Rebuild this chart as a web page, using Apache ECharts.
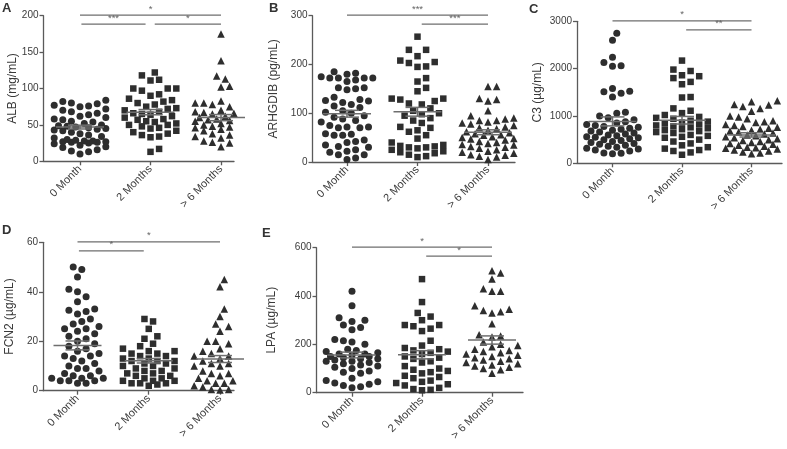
<!DOCTYPE html>
<html><head><meta charset="utf-8">
<script src="https://cdn.jsdelivr.net/npm/echarts@6/dist/echarts.min.js"></script>
<style>html,body{margin:0;padding:0;background:#fff}#c{width:787px;height:449px}</style>
</head><body><div id="c"></div>
<script>
// ---------------- DATA ----------------
const categories = ['0 Month', '2 Months', '> 6 Months'];

const ALB_0m = [84,82,80,79,77,76,75,72,70,68,66,64,62,60,58,57,55,54,52,50,49,48,47,46,45,44,43,42,40,38,36,34,32,30,29,28,28,27,27,26,26,25,24,22,20,19,16,14,13,10];
const ALB_2m = [122,118,112,111,100,100,100,97,92,90,86,84,82,80,78,75,73,72,70,68,66,65,64,62,60,58,57,55,54,52,50,50,48,46,45,42,40,38,36,34,33,17,13];
const ALB_6m = [175,138,117,113,103,102,83,80,80,78,75,72,70,68,67,66,65,64,62,60,60,58,57,56,55,54,52,50,50,48,47,46,45,44,42,40,38,36,34,32,30,28,27,26,25,20];
const ALB_mean = [47, 67.5, 60];
const ALB_sem = [2.6, 3.6, 4.2];
const ALB_sig = [[0, 2, '*'], [0, 1, '***'], [1, 2, '*']];

const ARHGDIB_0m = [185,182,180,175,172,172,172,172,168,165,152,152,150,148,133,128,126,125,122,118,115,112,105,102,100,95,92,88,85,82,75,72,72,70,70,58,57,55,55,45,42,40,35,32,30,25,22,20,15,15,8,5];
const ARHGDIB_2m = [257,230,230,217,208,205,203,196,195,172,165,152,145,130,130,128,125,120,118,110,105,100,98,95,90,85,80,72,70,65,62,55,48,40,35,33,32,30,30,28,25,22,20,18,15,12,10];
const ARHGDIB_6m = [155,155,130,128,125,105,95,90,88,85,85,82,80,78,75,72,70,68,65,62,60,58,56,55,52,50,48,47,45,42,40,38,36,35,32,30,28,25,22,20,18,15,14,12,10,5];
const ARHGDIB_mean = [99, 103, 61];
const ARHGDIB_sem = [7, 9, 5];
const ARHGDIB_sig = [[0, 2, '***'], [1, 2, '***']];

const C3_0m = [2750,2600,2240,2130,2060,2050,1580,1520,1510,1480,1400,1080,1060,1000,960,920,880,850,820,800,780,760,740,720,700,680,660,640,620,600,580,560,550,540,520,500,480,460,440,420,400,380,360,340,320,300,280,260,220,210,200];
const C3_2m = [2170,1980,1950,1860,1840,1800,1720,1670,1400,1390,1160,1110,1060,1020,980,960,940,900,880,860,840,820,800,780,760,740,720,700,680,660,640,600,580,560,540,500,460,420,380,340,310,280,260,230,180];
const C3_6m = [1320,1300,1240,1230,1200,1160,1100,1000,980,940,900,880,860,820,800,780,760,740,720,700,680,660,640,620,600,580,560,540,520,500,480,460,440,420,400,380,360,340,330,320,300,280,260,240,220,200];
const C3_mean = [885, 910, 600];
const C3_sem = [95, 80, 45];
const C3_sig = [[0, 2, '*'], [1, 2, '**']];

const FCN2_0m = [50,49,46,41,40,38,36,33,32.5,32,31,29,28,27,26,25,25,24,23,22,21,20,19,18,17,16,15,14,14,13,12,11,10,9,9,8,7,6,6,5,5,5,4,4,4,3,3];
const FCN2_2m = [29,28,25,22,21,19,18,17,16,16,15,15,14,14,13,13,12,12,12,11,11,10,10,9,9,8,8,7,7,6,6,5,5,4,4,4,3,3,3,2.5,2];
const FCN2_6m = [45,42,33,30,27,26,24,20,20,19,17,16,15,15,14,14,13,13,12,12,11,11,10,10,9,8,8,7,7,6,5,5,4,4,3,3,2,2,1.5,1,0.5,0.5,0.3];
const FCN2_mean = [18.3, 12.1, 12.8];
const FCN2_sem = [1.8, 0.9, 1.4];
const FCN2_sig = [[0, 2, '*'], [0, 1, '*']];

const LPA_0m = [420,360,310,300,295,280,270,260,220,215,210,200,180,175,170,165,160,160,155,150,150,145,140,140,135,130,130,125,120,115,110,105,100,90,85,80,60,50,45,40,35,30,25,20];
const LPA_2m = [470,375,330,315,300,280,280,275,265,255,215,195,185,180,175,170,165,160,150,145,140,130,125,110,100,95,90,85,80,70,65,60,50,45,40,35,30,20,15,12,10];
const LPA_6m = [505,495,470,430,420,420,360,345,340,335,330,285,240,235,230,210,200,195,190,180,175,170,165,160,155,150,145,140,135,130,125,120,115,110,105,100,95,80];
const LPA_mean = [156, 157, 218];
const LPA_sem = [12, 17, 17];
const LPA_sig = [[0, 2, '*'], [1, 2, '*']];

// ---------------- LAYOUT ----------------
// grid: pixel box; cat0/cat2: pixel x of first/last category; x range derived from them
const panels = [
  {letter:'A', name:'ALB (mg/mL)', groups:[ALB_0m, ALB_2m, ALB_6m], mean:ALB_mean, sem:ALB_sem, sig:ALB_sig,
   yMax:200, yInt:50, left:43.5, right:234, top:15.7, bottom:161.3, cat0:80, cat2:221, nameGap:25, letterPos:[2,2]},
  {letter:'B', name:'ARHGDIB (pg/mL)', groups:[ARHGDIB_0m, ARHGDIB_2m, ARHGDIB_6m], mean:ARHGDIB_mean, sem:ARHGDIB_sem, sig:ARHGDIB_sig,
   yMax:300, yInt:100, left:312.5, right:515, top:15.7, bottom:162, cat0:347, cat2:488, nameGap:33, letterPos:[269,2]},
  {letter:'C', name:'C3 (\u00b5g/mL)', groups:[C3_0m, C3_2m, C3_6m], mean:C3_mean, sem:C3_sem, sig:C3_sig,
   yMax:3000, yInt:1000, left:577, right:782, top:21.3, bottom:163.3, cat0:612.5, cat2:751.5, nameGap:33, letterPos:[529,3]},
  {letter:'D', name:'FCN2 (\u00b5g/mL)', groups:[FCN2_0m, FCN2_2m, FCN2_6m], mean:FCN2_mean, sem:FCN2_sem, sig:FCN2_sig,
   yMax:60, yInt:20, left:43, right:234, top:242.3, bottom:390.7, cat0:77.5, cat2:220, nameGap:27, letterPos:[2,224]},
  {letter:'E', name:'LPA (\u00b5g/mL)', groups:[LPA_0m, LPA_2m, LPA_6m], mean:LPA_mean, sem:LPA_sem, sig:LPA_sig,
   yMax:600, yInt:200, left:316.5, right:523, top:247.7, bottom:392.7, cat0:352, cat2:492, nameGap:39, letterPos:[262,227]}
];
const symbols = ['circle', 'rect', 'triangle'];
const symbolSizes = [7, 6.5, 7.5];
const FONT = 'Liberation Sans, Arial, sans-serif';
const INK = '#2e2e2e', AXIS = '#5a5a5a', TXT = '#3a3a3a', MEANC = '#6e6e6e';

// beeswarm-like horizontal spreading (pixel based) of a group's values
function swarm(values, pxPerY, pxPerX, center) {
  const sorted = values.slice().sort((a, b) => a - b);
  const placed = [], out = [];
  const step = 4.3, dist = 8.2, maxOff = 26;
  for (const v of sorted) {
    const y = v * pxPerY;
    let best = 0, bestScore = -1, found = false;
    for (let k = 0; k * step <= maxOff && !found; k++) {
      const cands = k === 0 ? [0] : [k * step, -k * step];
      for (const x of cands) {
        let minD = Infinity;
        for (const p of placed) {
          if (Math.abs(p.y - y) < dist) { const d = Math.hypot(p.x - x, p.y - y); if (d < minD) minD = d; }
        }
        if (minD >= dist) { best = x; found = true; break; }
        if (minD > bestScore) { bestScore = minD; best = x; }
      }
    }
    placed.push({x: best, y});
    out.push([center + best / pxPerX, v]);
  }
  return out;
}

const grids = [], xAxes = [], yAxes = [], series = [], graphics = [];
panels.forEach((p, pi) => {
  const width = p.right - p.left, height = p.bottom - p.top;
  const pxPerX = (p.cat2 - p.cat0) / 2;
  const xMin = -(p.cat0 - p.left) / pxPerX, xMax = 2 + (p.right - p.cat2) / pxPerX;
  grids.push({left:p.left, top:p.top, width:width, height:height, containLabel:false, outerBoundsMode:'none'});
  xAxes.push({
    type:'value', gridIndex:pi, min:xMin, max:xMax,
    splitLine:{show:false},
    axisLine:{show:true, onZero:false, lineStyle:{color:AXIS, width:1.3}},
    axisTick:{show:true, customValues:[0,1,2], length:4, lineStyle:{color:AXIS, width:1.3}},
    axisLabel:{show:true, customValues:[0,1,2], rotate:45, margin:6, fontSize:11, fontFamily:FONT, color:TXT,
      formatter:(v) => categories[Math.round(v)] || ''}
  });
  yAxes.push({
    type:'value', gridIndex:pi, min:0, max:p.yMax, interval:p.yInt,
    name:p.name, nameLocation:'middle', nameGap:p.nameGap, nameRotate:90, nameMoveOverlap:false,
    nameTextStyle:{fontSize:12, fontFamily:FONT, color:TXT},
    splitLine:{show:false},
    axisLine:{show:true, onZero:false, lineStyle:{color:AXIS, width:1.3}},
    axisTick:{show:true, length:4, lineStyle:{color:AXIS, width:1.3}},
    axisLabel:{fontSize:10, fontFamily:FONT, color:TXT, margin:5, formatter:(v) => String(v)}
  });
  const pxPerY = height / p.yMax;
  p.groups.forEach((vals, gi) => {
    series.push({
      type:'scatter', xAxisIndex:pi, yAxisIndex:pi, symbol:symbols[gi], symbolSize:symbolSizes[gi],
      itemStyle:{color:INK, opacity:1}, data:swarm(vals, pxPerY, pxPerX, gi), silent:true, z:2
    });
  });
  // mean +/- SEM
  series.push({
    type:'custom', xAxisIndex:pi, yAxisIndex:pi, z:5, silent:true,
    data:p.mean.map((m, i) => [i, m, p.sem[i]]),
    renderItem:(params, api) => {
      const c = api.value(0), m = api.value(1), s = api.value(2);
      const pm = api.coord([c, m]), pu = api.coord([c, m + s]), pl = api.coord([c, m - s]);
      const st = {stroke:MEANC, lineWidth:1.5};
      return {type:'group', children:[
        {type:'line', shape:{x1:pm[0]-24, y1:pm[1], x2:pm[0]+24, y2:pm[1]}, style:st},
        {type:'line', shape:{x1:pu[0]-12, y1:pu[1], x2:pu[0]+12, y2:pu[1]}, style:st},
        {type:'line', shape:{x1:pl[0]-12, y1:pl[1], x2:pl[0]+12, y2:pl[1]}, style:st},
        {type:'line', shape:{x1:pu[0], y1:pu[1], x2:pl[0], y2:pl[1]}, style:st}
      ]};
    }
  });
  // significance brackets
  series.push({
    type:'custom', xAxisIndex:pi, yAxisIndex:pi, z:5, silent:true, clip:false,
    data:p.sig.map((s, i) => [s[0], s[1], i === 0 ? 0 : 1]),
    renderItem:(params, api) => {
      const a = api.value(0), b = api.value(1), lvl = api.value(2);
      const label = p.sig[params.dataIndex][2];
      const x1v = (lvl === 1 && a === 1) ? 1.06 : a + (lvl === 1 && a === 0 ? 0.02 : 0);
      const x2v = (lvl === 1 && b === 1) ? 0.93 : b;
      const q1 = api.coord([x1v, p.yMax]), q2 = api.coord([x2v, p.yMax]);
      const y = q1[1] - 0.5 + lvl * 9;
      return {type:'group', children:[
        {type:'line', shape:{x1:q1[0], y1:y, x2:q2[0], y2:y}, style:{stroke:MEANC, lineWidth:1.3}},
        {type:'text', x:(q1[0]+q2[0])/2, y:y - 1, style:{text:label, fill:'#666', font:'9.5px ' + FONT, textAlign:'center', textVerticalAlign:'bottom'}}
      ]};
    }
  });
  graphics.push({type:'text', left:p.letterPos[0], top:p.letterPos[1],
    style:{text:p.letter, fill:'#333', font:'bold 13px ' + FONT}});
});

const chart = echarts.init(document.getElementById('c'), null, {renderer:'canvas'});
chart.setOption({
  animation:false, backgroundColor:'#fff',
  grid:grids, xAxis:xAxes, yAxis:yAxes, series:series, graphic:graphics
});
</script></body></html>
